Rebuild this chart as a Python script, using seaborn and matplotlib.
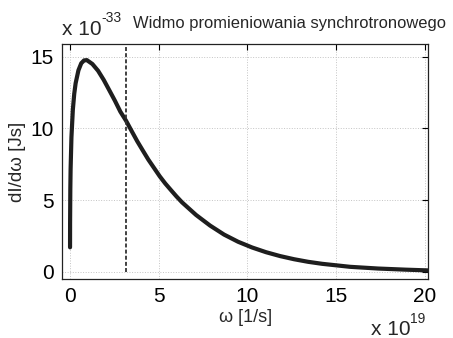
import matplotlib
matplotlib.use("Agg")
import matplotlib.pyplot as plt
import seaborn as sns
import pandas as pd

# omega in units of 1e19 1/s, intensity in units of 1e-33 Js
omega = [0.0004, 0.003, 0.016, 0.032, 0.079, 0.158, 0.237, 0.316, 0.474, 0.632,
         0.79, 0.95, 1.26, 1.58, 1.90, 2.21, 2.53, 2.84, 3.16, 3.48, 3.79, 4.11,
         4.42, 4.74, 5.06, 5.37, 5.69, 6.00, 6.32, 7.11, 7.9, 8.69, 9.48, 10.27,
         11.06, 11.85, 12.64, 13.43, 14.22, 15.8, 17.38, 18.96, 20.2]
intensity = [1.7, 3.4, 5.76, 7.16, 9.38, 11.3, 12.42, 13.16, 14.06, 14.55,
             14.75, 14.77, 14.5, 14.03, 13.39, 12.68, 11.94, 11.17, 10.54, 9.81,
             9.11, 8.45, 7.82, 7.24, 6.66, 6.16, 5.70, 5.26, 4.84, 3.96, 3.22,
             2.59, 2.09, 1.69, 1.36, 1.09, 0.87, 0.69, 0.55, 0.34, 0.22, 0.14, 0.09]
omega_c = 3.16
omega_c_line_y = [0, 16]
x_ticks = [0, 5, 10, 15, 20]
y_ticks = [0, 5, 10, 15]
title = "Widmo promieniowania synchrotronowego"
x_label = "ω [1/s]"
y_label = "dI/dω [Js]"
y_exp = "-33"
x_exp = "19"

sns.set_style("white")
plt.rcParams["font.family"] = ["Liberation Sans", "DejaVu Sans"]

fig = plt.figure(figsize=(4.53, 3.38), dpi=100)
ax = fig.add_axes([0.137, 0.175, 0.808, 0.695])

df = pd.DataFrame({"omega": omega, "I": intensity})
sns.lineplot(data=df, x="omega", y="I", ax=ax, color="#1e1e1e", linewidth=3.0,
             estimator=None, solid_joinstyle="round", solid_capstyle="round")
ax.plot([omega_c, omega_c], omega_c_line_y, color="#333333", linewidth=1.3,
        linestyle=(0, (2.2, 1.2)))

ax.set_xlim(-0.45, 20.2)
ax.set_ylim(-0.5, 15.9)
ax.set_xticks(x_ticks)
ax.set_yticks(y_ticks)
ax.tick_params(direction="in", length=4, width=0.8, top=True, right=True,
               labelsize=15, pad=6, colors="black")
for s in ax.spines.values():
    s.set_visible(True)
    s.set_color("#222222")
    s.set_linewidth(0.9)
ax.grid(True, linestyle=":", color="#c4c4c4", linewidth=0.7)

ax.set_xlabel(x_label, fontsize=13, labelpad=2)
ax.set_ylabel(y_label, fontsize=13.5, labelpad=3)

W, H = 453, 338
fig.text(62 / W, 1 - 35 / H, "x 10", fontsize=15, ha="left", va="baseline")
fig.text(101 / W, 1 - 22 / H, y_exp, fontsize=10, ha="left", va="baseline")
fig.text(133 / W, 1 - 28 / H, title, fontsize=11.9, ha="left", va="baseline")
fig.text(371 / W, 1 - 335 / H, "x 10", fontsize=15, ha="left", va="baseline")
fig.text(410 / W, 1 - 323 / H, x_exp, fontsize=10, ha="left", va="baseline")

fig.savefig("out.png", dpi=100)
